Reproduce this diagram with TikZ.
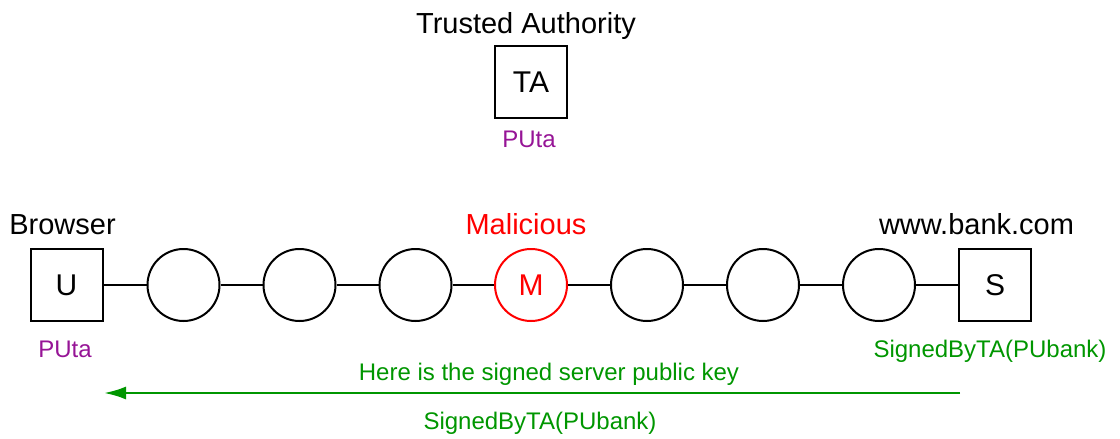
\documentclass[tikz,border=0pt]{standalone}
\usepackage{fontspec}
\setmainfont{Liberation Sans}
\usetikzlibrary{arrows.meta}
\definecolor{pur}{RGB}{150,20,150}
\definecolor{grn}{RGB}{0,150,0}
\begin{document}
\begin{tikzpicture}[x=1pt,y=-1pt,
  box/.style={draw,line width=2pt,minimum size=72pt,inner sep=0pt,font=\fontsize{30}{32}\selectfont},
  hop/.style={draw,circle,line width=2pt,minimum size=72pt,inner sep=0pt,font=\fontsize{30}{32}\selectfont},
  lbl/.style={anchor=base,inner sep=0pt,font=\fontsize{24}{26}\selectfont},
  ttl/.style={anchor=base,inner sep=0pt,font=\fontsize{29}{31}\selectfont},
  link/.style={line width=2pt}]
\useasboundingbox (0,0) rectangle (1120,439);
\node[box] (TA) at (531,82) {TA};
\node[ttl] (tatxt) at (526,33) {Trusted Authority};
\node[lbl,text=pur] (tapu) at (529,147) {PUta};
\node[box] (U) at (66.5,285) {U};
\node[hop] (c1) at (183.5,285) {};
\node[hop] (c2) at (299.5,285) {};
\node[hop] (c3) at (415.5,285) {};
\node[hop,draw=red,text=red] (M) at (531,285) {M};
\node[hop] (c5) at (647,285) {};
\node[hop] (c6) at (763,285) {};
\node[hop] (c7) at (879,285) {};
\node[box] (S) at (995,285) {S};
\draw[link] (U) -- (c1) -- (c2) -- (c3) -- (M) -- (c5) -- (c6) -- (c7) -- (S);
\node[ttl] (brw) at (62.5,234) {Browser};
\node[ttl,text=red] (mal) at (526,234) {Malicious};
\node[ttl] (bank) at (976.5,234) {www.bank.com};
\node[lbl,text=pur] (upu) at (65,357) {PUta};
\node[lbl,text=grn] (ssig) at (990,357) {SignedByTA(PUbank)};
\coordinate (a0) at (960,393);
\coordinate (a1) at (104,393);
\draw[grn,line width=2.5pt,-{Latex[length=22pt,width=13pt]}] (a0) -- (a1);
\node[lbl,text=grn] (msg) at (549,380) {Here is the signed server public key};
\node[lbl,text=grn] (msg2) at (540,429) {SignedByTA(PUbank)};
\end{tikzpicture}
\end{document}
